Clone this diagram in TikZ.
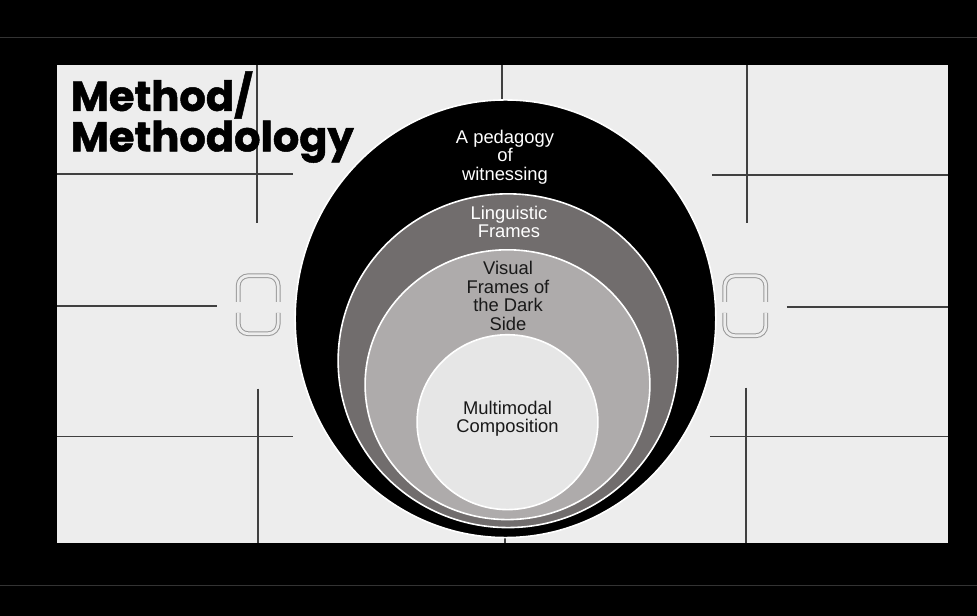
\documentclass[tikz,border=0pt]{standalone}
\usepackage{fontspec}
\setmainfont{Liberation Sans}
\newfontfamily\headfont{Poppins}[BoldFeatures={FakeBold=1.2}]
\usetikzlibrary{shapes.geometric, positioning}

\definecolor{panelgray}{HTML}{EDEDED}
\definecolor{gridgray}{HTML}{404040}
\definecolor{ringdark}{HTML}{716D6D}
\definecolor{ringmid}{HTML}{AEABAB}
\definecolor{ringlight}{HTML}{E6E6E6}

\tikzset{
  ring/.style={ellipse, draw=white, line width=0.8pt, inner sep=0pt},
  ringtext/.style={font=\fontsize{9.2}{9.3}\selectfont, align=center, inner sep=0pt},
  gridline/.style={draw=gridgray, line width=0.75pt},
  bracket/.style={draw=gray!80, double=panelgray, double distance=1.4pt,
                  line width=0.5pt, rounded corners=5pt},
  headline/.style={font=\headfont\bfseries\fontsize{20.8}{18.5}\selectfont,
                   align=left, anchor=north west, inner sep=0pt},
}

\begin{document}
\begin{tikzpicture}[x=0.5pt, y=-0.5pt]
  % black frame and light screen
  \fill[black] (0,0) rectangle (977,616);
  \draw[black!80!white, line width=0.4pt] (0,37) -- (977,37);
  \draw[black!80!white, line width=0.4pt] (0,586) -- (977,586);
  \fill[panelgray] (57,65) rectangle (948,543);

  % crosshair marks
  \draw[gridline] (57,174) -- (293,174);
  \draw[gridline] (257,65) -- (257,223);
  \draw[gridline] (57,306) -- (217,306);
  \draw[gridline] (57,437) -- (293,437);
  \draw[gridline] (258,389) -- (258,543);
  \draw[gridline] (502,65) -- (502,130);
  \draw[gridline] (505,500) -- (505,543);
  \draw[gridline] (712,175) -- (948,175);
  \draw[gridline] (747,65) -- (747,223);
  \draw[gridline] (787,307) -- (948,307);
  \draw[gridline] (710,437) -- (948,437);
  \draw[gridline] (746,388) -- (746,543);

  % focus brackets
  \draw[bracket] (238,302) -- (238,276) -- (278,276) -- (278,302);
  \draw[bracket] (238,313) -- (238,334) -- (278,334) -- (278,313);
  \draw[bracket] (725,302) -- (725,276) -- (766,276) -- (766,302);
  \draw[bracket] (725,313) -- (725,336) -- (766,336) -- (766,313);

  % nested rings
  \node[ring, fill=black, minimum width=210.5pt, minimum height=219pt] (witness) at (505.5,319) {};
  \node[ring, fill=ringdark, minimum width=170pt, minimum height=167pt] (lingframe) at (508,361) {};
  \node[ring, fill=ringmid, minimum width=142.5pt, minimum height=135pt] (visframe) at (507.5,385) {};
  \node[ring, fill=ringlight, minimum width=90.5pt, minimum height=87.5pt] (multimodal) at (507.5,422.5) {};

  \node[ringtext, text=white] (witnesslbl) at (505,157) {A pedagogy\\of\\witnessing};
  \node[ringtext, text=white] (linglbl) at (509,222) {Linguistic\\Frames};
  \node[ringtext, text=black!90] (vislbl) at (508,296) {Visual\\Frames of\\the Dark\\Side};
  \node[ringtext, text=black!90] (multilbl) at (507.5,419) {Multimodal\\Composition};

  \node[headline] (title) at (70,71) {Method/\\Methodology};
\end{tikzpicture}
\end{document}
